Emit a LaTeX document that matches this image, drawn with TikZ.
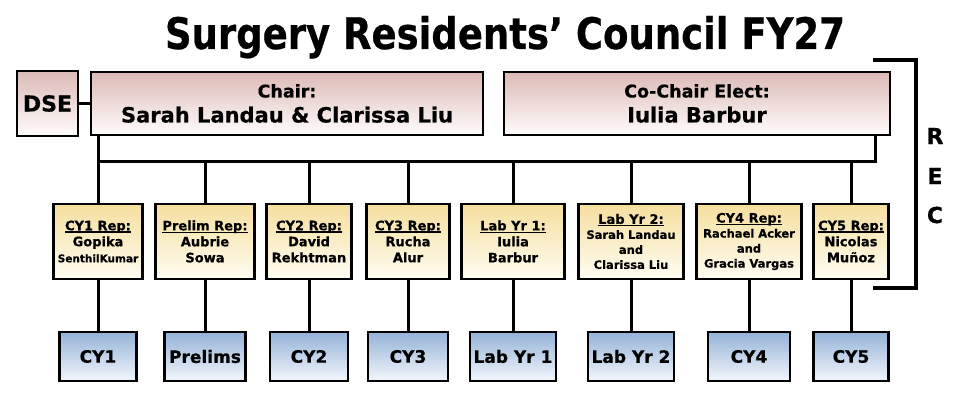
\documentclass[tikz,border=0pt]{standalone}
\usepackage{fontspec}
\setmainfont{DejaVu Sans}[BoldFeatures={FakeBold=0.6}]
\usepackage{graphicx}
\definecolor{pinktop}{RGB}{220,186,182}
\definecolor{pinkbot}{RGB}{255,252,252}
\definecolor{yeltop}{RGB}{245,222,158}
\definecolor{yelbot}{RGB}{255,253,242}
\definecolor{bluetop}{RGB}{148,178,215}
\definecolor{bluebot}{RGB}{242,246,252}
\newcommand{\fs}[2]{\fontsize{#1}{#2}\selectfont}
\newcommand{\hd}[1]{\setbox0\hbox{#1}\rlap{\rule[-2.4pt]{\wd0}{1.2pt}}\box0}
\begin{document}
\begin{tikzpicture}[x=1pt,y=1pt,
  box/.style={draw=black, line width=2.4pt, inner sep=0pt, align=center},
  topbox/.style={box, top color=pinktop, bottom color=pinkbot},
  repbox/.style={box, top color=yeltop, bottom color=yelbot, minimum height=75pt},
  yrbox/.style={box, top color=bluetop, bottom color=bluebot, minimum height=49pt, font=\bfseries\fs{17}{20}},
  link/.style={line width=3pt},
  rec/.style={font=\bfseries\fs{22}{26}, inner sep=0pt}]
\useasboundingbox (0,0) rectangle (960,-411);
% title
\node[anchor=base, inner sep=0pt, font=\bfseries] (title) at (505,-49)
  {\resizebox{680pt}{33pt}{Surgery Residents’ Council FY27}};
% top row
\node[topbox, minimum width=61pt, minimum height=65pt, font=\bfseries\fs{22}{26}] (dse) at (47.5,-103.5) {DSE};
\node[topbox, minimum width=392pt, minimum height=63pt, font=\bfseries\fs{21}{25}] (chair) at (287,-103.5)
  {{\fs{17.5}{25}Chair:}\\Sarah Landau \& Clarissa Liu};
\node[topbox, minimum width=386pt, minimum height=63pt, font=\bfseries\fs{21}{25}] (cochair) at (697,-103.5)
  {{\fs{17.5}{25}Co-Chair Elect:}\\Iulia Barbur};
% bus
\coordinate (busL) at (98,-162);
\coordinate (busR) at (875,-162);
\draw[link] (dse) -- (chair);
\draw[link] (chair.south -| busL) -- (busL) -- (busR) -- (cochair.south -| busR);
% rep boxes
\node[repbox, minimum width=89pt, font=\bfseries\fs{13}{16}] (r1) at (98,-241.5)
  {\hd{CY1 Rep:}\\Gopika\\{\fs{10.5}{16}SenthilKumar}};
\node[repbox, minimum width=99pt, font=\bfseries\fs{13}{16}] (r2) at (205,-241.5)
  {\hd{Prelim Rep:}\\Aubrie\\Sowa};
\node[repbox, minimum width=85pt, font=\bfseries\fs{13}{16}] (r3) at (309,-241.5)
  {\hd{CY2 Rep:}\\David\\Rekhtman};
\node[repbox, minimum width=83pt, font=\bfseries\fs{13}{16}] (r4) at (408,-241.5)
  {\hd{CY3 Rep:}\\Rucha\\Alur};
\node[repbox, minimum width=103pt, font=\bfseries\fs{13}{16}] (r5) at (513,-241.5)
  {\hd{Lab Yr 1:}\\Iulia\\Barbur};
\node[repbox, minimum width=105pt, font=\bfseries\fs{11.5}{15}] (r6) at (631,-241.5)
  {{\fs{13}{15}\hd{Lab Yr 2:}}\\Sarah Landau\\and\\Clarissa Liu};
\node[repbox, minimum width=105pt, font=\bfseries\fs{11.5}{15}] (r7) at (749,-241.5)
  {{\fs{13}{15}\hd{CY4 Rep:}}\\Rachael Acker\\and\\Gracia Vargas};
\node[repbox, minimum width=75pt, font=\bfseries\fs{13}{16}] (r8) at (851,-241.5)
  {\hd{CY5 Rep:}\\Nicolas\\Muñoz};
% year boxes
\node[yrbox, minimum width=77pt] (y1) at (98,-356.5) {CY1};
\node[yrbox, minimum width=81pt] (y2) at (205,-356.5) {Prelims};
\node[yrbox, minimum width=78pt] (y3) at (309,-356.5) {CY2};
\node[yrbox, minimum width=80pt] (y4) at (408,-356.5) {CY3};
\node[yrbox, minimum width=86pt] (y5) at (513,-356.5) {Lab Yr 1};
\node[yrbox, minimum width=86pt] (y6) at (631,-356.5) {Lab Yr 2};
\node[yrbox, minimum width=82pt] (y7) at (749,-356.5) {CY4};
\node[yrbox, minimum width=75pt] (y8) at (851,-356.5) {CY5};
\foreach \i in {1,...,8}{
  \draw[link] (r\i.north) -- (r\i.north |- busL);
  \draw[link] (r\i.south) -- (y\i.north);
}
% REC bracket
\coordinate (bt) at (873,-60);
\coordinate (bb) at (873,-288);
\draw[line width=3.5pt] (bt) -| (916,-288) -- (bb);
\node[rec] (recR) at (935,-136) {R};
\node[rec] (recE) at (935,-176) {E};
\node[rec] (recC) at (935,-215) {C};
\end{tikzpicture}
\end{document}
